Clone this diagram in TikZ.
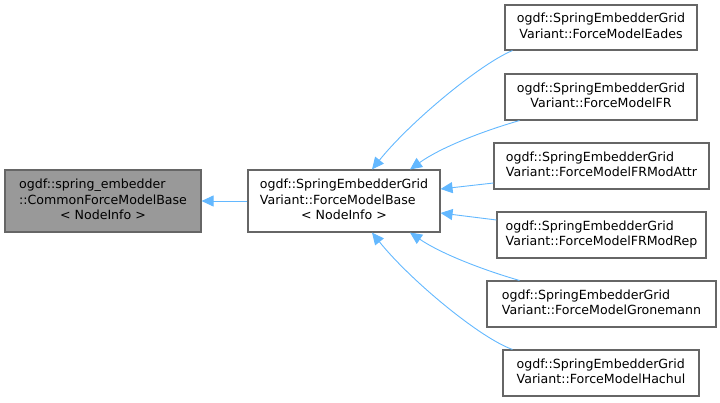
\documentclass[tikz,border=0pt]{standalone}
\usepackage{fontspec}
\setmainfont{DejaVu Sans}
\usetikzlibrary{arrows.meta,calc}
\definecolor{edgeblue}{HTML}{63B8FF}
\definecolor{boxborder}{HTML}{666666}
\definecolor{basefill}{HTML}{999999}
\newcommand{\lastline}[1]{\multicolumn{1}{@{}c@{}}{#1}}
\begin{document}
\begin{tikzpicture}[x=1pt,y=-1pt,
  cls/.style={draw=boxborder,line width=1.1pt,fill=white,inner sep=0pt,
    minimum height=46pt,font=\fontsize{12.6}{15.3}\selectfont},
  inh/.style={draw=edgeblue,line width=0.9pt,-{Triangle[length=12pt,width=11pt]}}]
\useasboundingbox (0,0) rectangle (720,402);
% nodes
\node[cls,fill=basefill,minimum width=196pt,minimum height=62pt] (base) at (103,201)
  {\begin{tabular}{@{}l@{}}ogdf::spring\_embedder\\::CommonForceModelBase\\\lastline{< NodeInfo >}\end{tabular}};
\node[cls,minimum width=192pt,minimum height=62pt] (mid) at (344,201)
  {\begin{tabular}{@{}l@{}}ogdf::SpringEmbedderGrid\\Variant::ForceModelBase\\\lastline{< NodeInfo >}\end{tabular}};
\node[cls,minimum width=192pt,minimum height=45pt] (eades) at (601,27.5)
  {\begin{tabular}{@{}l@{}}ogdf::SpringEmbedderGrid\\\lastline{Variant::ForceModelEades}\end{tabular}};
\node[cls,minimum width=192pt] (fr) at (601,97)
  {\begin{tabular}{@{}l@{}}ogdf::SpringEmbedderGrid\\\lastline{Variant::ForceModelFR}\end{tabular}};
\node[cls,minimum width=215pt] (attr) at (601.5,166)
  {\begin{tabular}{@{}l@{}}ogdf::SpringEmbedderGrid\\\lastline{Variant::ForceModelFRModAttr}\end{tabular}};
\node[cls,minimum width=209pt] (rep) at (601.5,235)
  {\begin{tabular}{@{}l@{}}ogdf::SpringEmbedderGrid\\\lastline{Variant::ForceModelFRModRep}\end{tabular}};
\node[cls,minimum width=229pt] (gron) at (601.5,304)
  {\begin{tabular}{@{}l@{}}ogdf::SpringEmbedderGrid\\\lastline{Variant::ForceModelGronemann}\end{tabular}};
\node[cls,minimum width=196pt] (hach) at (601,373)
  {\begin{tabular}{@{}l@{}}ogdf::SpringEmbedderGrid\\\lastline{Variant::ForceModelHachul}\end{tabular}};
% edges
\draw[inh] (mid.west) -- (base.east);
\draw[inh] ($(eades.south west)+(8,0)$) .. controls (480,64) and (410,122) .. ($(mid.north)+(28,0)$);
\draw[inh] ($(fr.south west)+(15,0)$) .. controls (480,132) and (440,148) .. ($(mid.north)+(66,0)$);
\draw[inh] ($(attr.west)+(0,17)$) -- ($(mid.east)+(0,-12)$);
\draw[inh] ($(rep.west)+(0,-15)$) -- ($(mid.east)+(0,12)$);
\draw[inh] ($(gron.north west)+(33,0)$) .. controls (480,269) and (440,253) .. ($(mid.south)+(66,0)$);
\draw[inh] ($(hach.north west)+(10,0)$) .. controls (480,338) and (410,280) .. ($(mid.south)+(28,0)$);
\end{tikzpicture}
\end{document}
